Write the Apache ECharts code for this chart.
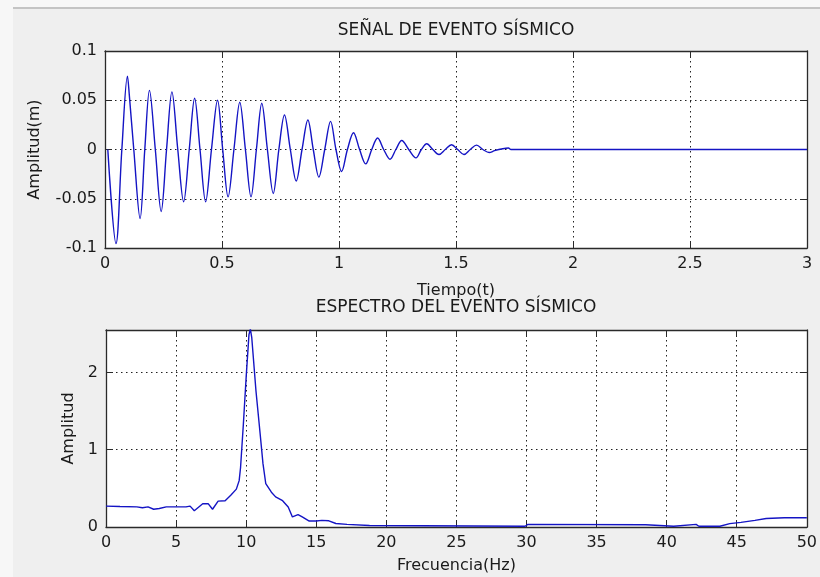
<!DOCTYPE html>
<html>
<head>
<meta charset="utf-8">
<script src="https://cdn.jsdelivr.net/npm/echarts@6/dist/echarts.min.js"></script>
<style>
  html, body { margin: 0; padding: 0; background: #efefef; }
  #chart { width: 820px; height: 577px; }
</style>
</head>
<body>
<div id="chart"></div>
<script>
// señal: [tiempo, amplitud] (extremos y cruces por cero)
const signalPoints = [
  [0.012, 0], [0.047, -0.0956], [0.072, 0], [0.096, 0.0745], [0.104, 0.055], [0.123, 0],
  [0.150, -0.070], [0.170, 0], [0.190, 0.060], [0.215, 0], [0.240, -0.063],
  [0.263, 0], [0.286, 0.0585], [0.311, 0], [0.336, -0.053], [0.360, 0],
  [0.383, 0.052], [0.406, 0], [0.430, -0.053], [0.455, 0], [0.481, 0.050],
  [0.503, 0], [0.526, -0.048], [0.551, 0], [0.576, 0.048], [0.600, 0],
  [0.624, -0.048], [0.647, 0], [0.670, 0.047], [0.694, 0], [0.719, -0.0446],
  [0.743, 0], [0.767, 0.035], [0.792, 0], [0.817, -0.032], [0.842, 0],
  [0.867, 0.030], [0.890, 0], [0.914, -0.028], [0.939, 0], [0.964, 0.0286],
  [0.987, 0], [1.011, -0.0224], [1.036, 0], [1.062, 0.017], [1.088, 0],
  [1.114, -0.0146], [1.140, 0], [1.165, 0.0116], [1.191, 0], [1.218, -0.0099],
  [1.243, 0], [1.268, 0.0092], [1.298, 0], [1.329, -0.0085], [1.352, 0],
  [1.375, 0.0058], [1.401, 0], [1.427, -0.0051], [1.454, 0], [1.481, 0.0048],
  [1.507, 0], [1.534, -0.0051], [1.561, 0], [1.588, 0.0044], [1.615, 0],
  [1.642, -0.0031], [1.665, -0.0012], [1.700, 0.0008], [1.724, 0.0015],
  [1.735, 0], [3.0, 0]
]

// espectro: [frecuencia, amplitud]
const spectrumPoints = [
  [0, 0.27], [1.0, 0.265], [2.2, 0.26], [2.6, 0.25], [3.0, 0.26], [3.4, 0.23],
  [3.8, 0.24], [4.3, 0.26], [5.0, 0.26], [5.7, 0.26], [6.0, 0.27], [6.3, 0.21],
  [6.9, 0.30], [7.3, 0.30], [7.6, 0.23], [8.0, 0.335], [8.5, 0.34], [8.9, 0.41],
  [9.3, 0.49], [9.5, 0.60], [9.6, 0.77], [9.8, 1.33], [10.0, 1.94], [10.2, 2.49],
  [10.3, 2.56], [10.4, 2.45], [10.7, 1.76], [11.0, 1.2], [11.2, 0.82], [11.4, 0.56],
  [11.8, 0.45], [12.1, 0.39], [12.6, 0.34], [13.0, 0.26], [13.3, 0.13], [13.7, 0.16],
  [14.0, 0.13], [14.5, 0.077], [15.0, 0.077], [15.4, 0.086], [15.9, 0.08],
  [16.4, 0.045], [17.2, 0.034], [18.8, 0.02], [18.9, 0.01], [29.9, 0.01],
  [30.1, 0.034], [38.5, 0.03], [38.6, 0.01], [40.5, 0.01], [40.6, 0.034],
  [42.1, 0.034], [42.3, 0.01], [43.8, 0.01], [44.5, 0.043], [45.3, 0.06],
  [46.3, 0.086], [47.1, 0.11], [48.4, 0.12], [50, 0.12]
]

const titles = ['SEÑAL DE EVENTO SÍSMICO', 'ESPECTRO DEL EVENTO SÍSMICO']
const xNames = ['Tiempo(t)', 'Frecuencia(Hz)']
const yNames = ['Amplitud(m)', 'Amplitud']

const FONT = 'DejaVu Sans'
const INK = '#1a1a1a'
const BLUE = '#1414c4'

function boxAxis(gridIndex, min, max, interval, extra) {
  let ax = {
    type: 'value',
    gridIndex: gridIndex,
    min: min,
    max: max,
    interval: interval,
    axisLine: { show: true, onZero: false, lineStyle: { color: '#2a2a2a', width: 1.3 } },
    axisTick: { show: true, inside: true, length: 7, lineStyle: { color: '#2a2a2a' } },
    axisLabel: { show: false },
    splitLine: { show: false }
  }
  return Object.assign(ax, extra || {})
}

const labelStyle = { show: true, color: INK, fontFamily: FONT, fontSize: 16, margin: 8 }
const gridLine = { show: true, lineStyle: { color: '#222', width: 1, type: [1.5, 3.5] } }
const nameStyle = { fontFamily: FONT, fontSize: 16, color: INK }

let chart = echarts.init(document.getElementById('chart'))

let option = {
  backgroundColor: '#efefef',
  animation: false,
  graphic: [
    { type: 'rect', shape: { x: 0, y: 0, width: 13, height: 577 }, style: { fill: '#f7f7f7' }, silent: true },
    { type: 'rect', shape: { x: 13, y: 0, width: 807, height: 7 }, style: { fill: '#f7f7f7' }, silent: true },
    { type: 'rect', shape: { x: 13, y: 7, width: 807, height: 2 }, style: { fill: '#c4c4c4' }, silent: true }
  ],
  title: [
    {
      text: titles[0], left: 456, top: 22, textAlign: 'center', padding: 0,
      textStyle: { fontFamily: FONT, fontSize: 17, fontWeight: 'normal', color: INK }
    },
    {
      text: titles[1], left: 456, top: 299, textAlign: 'center', padding: 0,
      textStyle: { fontFamily: FONT, fontSize: 17, fontWeight: 'normal', color: INK }
    }
  ],
  grid: [
    { left: 105, top: 51, width: 702, height: 197, show: true, backgroundColor: '#ffffff', borderWidth: 0 },
    { left: 106, top: 330, width: 703, height: 197, show: true, backgroundColor: '#ffffff', borderWidth: 0 }
  ],
  xAxis: [
    boxAxis(0, 0, 3, 0.5, {
      position: 'bottom',
      axisLabel: labelStyle,
      splitLine: gridLine,
      name: xNames[0], nameLocation: 'middle', nameGap: 35,
      nameTextStyle: nameStyle
    }),
    boxAxis(0, 0, 3, 0.5, { position: 'top' }),
    boxAxis(1, 0, 50, 5, {
      position: 'bottom',
      axisLabel: labelStyle,
      splitLine: gridLine,
      name: xNames[1], nameLocation: 'middle', nameGap: 31,
      nameTextStyle: nameStyle
    }),
    boxAxis(1, 0, 50, 5, { position: 'top' })
  ],
  yAxis: [
    boxAxis(0, -0.1, 0.1, 0.05, {
      position: 'left',
      axisLabel: labelStyle,
      splitLine: gridLine,
      name: yNames[0], nameLocation: 'middle', nameGap: 62,
      nameTextStyle: nameStyle
    }),
    boxAxis(0, -0.1, 0.1, 0.05, { position: 'right' }),
    boxAxis(1, 0, 2.55, 1, {
      position: 'left',
      axisLabel: Object.assign({}, labelStyle, { showMaxLabel: false }),
      splitLine: gridLine,
      name: yNames[1], nameLocation: 'middle', nameGap: 29,
      nameTextStyle: nameStyle
    }),
    boxAxis(1, 0, 2.55, 1, { position: 'right' })
  ],
  series: [
    {
      type: 'line',
      xAxisIndex: 0,
      yAxisIndex: 0,
      data: signalPoints,
      showSymbol: false,
      smooth: 0.35,
      lineStyle: { color: BLUE, width: 1.4 },
      z: 5
    },
    {
      type: 'line',
      xAxisIndex: 2,
      yAxisIndex: 2,
      data: spectrumPoints,
      showSymbol: false,
      clip: true,
      lineStyle: { color: BLUE, width: 1.4 },
      z: 5
    }
  ]
}

chart.setOption(option)
</script>
</body>
</html>
